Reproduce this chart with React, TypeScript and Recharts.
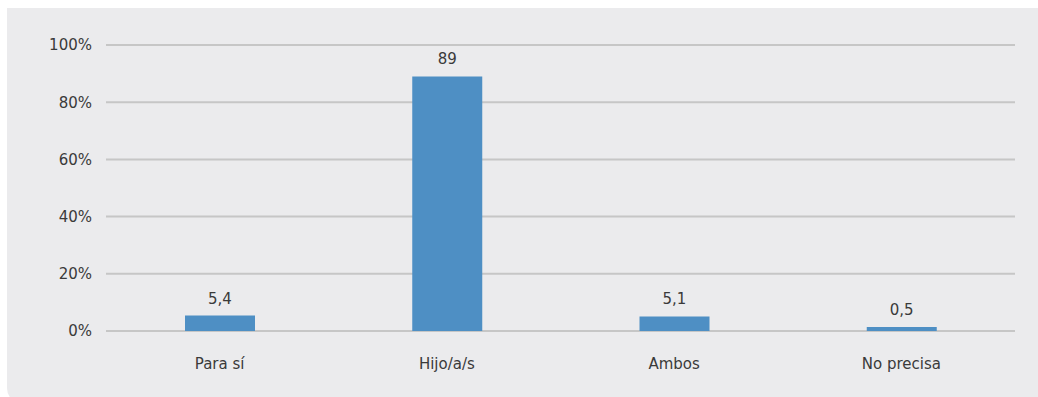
import React from 'react';
import { BarChart, Bar, XAxis, YAxis, CartesianGrid, LabelList } from 'recharts';

const categories = ['Para sí', 'Hijo/a/s', 'Ambos', 'No precisa'];
const values = [5.4, 89, 5.1, 0.5];
const yTicks = [0, 20, 40, 60, 80, 100];

const data = categories.map((name, i) => ({ name, value: values[i] }));

const fontFamily = '"DejaVu Sans", sans-serif';
const textColor = '#3a3a3a';

const App = () => {
  return (
    <div style={{ position: 'absolute', left: 0, top: 0, width: 1038, height: 397, background: '#fff', overflow: 'hidden' }}>
      <div
        style={{
          position: 'absolute',
          left: 7,
          top: 8,
          width: 1040,
          height: 396,
          background: '#ebebed',
          borderBottomLeftRadius: 16,
        }}
      />
      <div style={{ position: 'absolute', left: 0, top: 0 }}>
        <BarChart width={1038} height={397} data={data} margin={{ top: 45, right: 23, bottom: 36, left: 0 }} barSize={70}>
          <CartesianGrid vertical={false} stroke="#c6c6c6" strokeWidth={2} />
          <XAxis
            dataKey="name"
            axisLine={false}
            tickLine={false}
            tickMargin={21}
            tick={{ fill: textColor, fontSize: 15, fontFamily }}
          />
          <YAxis
            width={106}
            domain={[0, 100]}
            ticks={yTicks}
            axisLine={false}
            tickLine={false}
            tickMargin={8}
            tickFormatter={(v: number) => `${v}%`}
            tick={{ fill: textColor, fontSize: 15, fontFamily }}
          />
          <Bar dataKey="value" fill="#4e8fc4" isAnimationActive={false} minPointSize={4}>
            <LabelList
              dataKey="value"
              position="top"
              offset={12}
              formatter={(v: number) => String(v).replace('.', ',')}
              style={{ fill: textColor, fontSize: 15, fontFamily }}
            />
          </Bar>
        </BarChart>
      </div>
    </div>
  );
};

export default App;
